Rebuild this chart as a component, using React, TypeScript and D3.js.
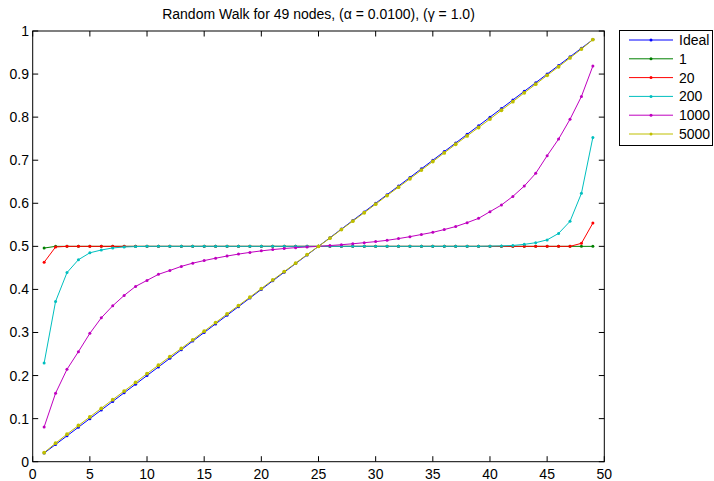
import React, { useEffect, useRef } from "react";
import * as d3 from "d3";

const nodes = [1,2,3,4,5,6,7,8,9,10,11,12,13,14,15,16,17,18,19,20,21,22,23,24,25,26,27,28,29,30,31,32,33,34,35,36,37,38,39,40,41,42,43,44,45,46,47,48,49];

const ideal = [0.02,0.04,0.06,0.08,0.10,0.12,0.14,0.16,0.18,0.20,0.22,0.24,0.26,0.28,0.30,0.32,0.34,0.36,0.38,0.40,0.42,0.44,0.46,0.48,0.50,0.52,0.54,0.56,0.58,0.60,0.62,0.64,0.66,0.68,0.70,0.72,0.74,0.76,0.78,0.80,0.82,0.84,0.86,0.88,0.90,0.92,0.94,0.96,0.98];

const s1 = [0.496,0.5,0.5,0.5,0.5,0.5,0.5,0.5,0.5,0.5,0.5,0.5,0.5,0.5,0.5,0.5,0.5,0.5,0.5,0.5,0.5,0.5,0.5,0.5,0.5,0.5,0.5,0.5,0.5,0.5,0.5,0.5,0.5,0.5,0.5,0.5,0.5,0.5,0.5,0.5,0.5,0.5,0.5,0.5,0.5,0.5,0.5,0.5,0.5];

const s20 = [0.463,0.4985,0.5,0.5,0.5,0.5,0.5,0.5,0.5,0.5,0.5,0.5,0.5,0.5,0.5,0.5,0.5,0.5,0.5,0.5,0.5,0.5,0.5,0.5,0.5,0.5,0.5,0.5,0.5,0.5,0.5,0.5,0.5,0.5,0.5,0.5,0.5,0.5,0.5,0.5,0.5,0.5,0.5,0.5,0.5,0.5,0.5,0.507,0.554];

const s200 = [0.229,0.372,0.439,0.469,0.485,0.4915,0.4963,0.4985,0.4995,0.5,0.5,0.5,0.5,0.5,0.5,0.5,0.5,0.5,0.5,0.5,0.5,0.5,0.5,0.5,0.5,0.5,0.5,0.5,0.5,0.5,0.5,0.5,0.5,0.5,0.5,0.5,0.5,0.5,0.5,0.5005,0.501,0.502,0.5046,0.5085,0.515,0.530,0.558,0.623,0.753];

const s1000 = [0.0806,0.159,0.2145,0.2555,0.298,0.334,0.362,0.386,0.407,0.421,0.435,0.444,0.4535,0.461,0.467,0.4725,0.4775,0.482,0.486,0.4895,0.4925,0.495,0.497,0.4985,0.5,0.5018,0.5038,0.506,0.5085,0.511,0.514,0.518,0.5225,0.5275,0.5325,0.539,0.546,0.555,0.565,0.5805,0.596,0.616,0.640,0.6695,0.7105,0.749,0.795,0.848,0.9187];

const s5000 = [0.021,0.043,0.064,0.084,0.104,0.124,0.144,0.164,0.184,0.2045,0.224,0.244,0.263,0.283,0.303,0.323,0.343,0.3625,0.382,0.402,0.422,0.4415,0.461,0.481,0.5,0.519,0.539,0.5585,0.578,0.598,0.618,0.6375,0.657,0.677,0.697,0.717,0.737,0.7565,0.776,0.7955,0.816,0.836,0.8565,0.8765,0.897,0.917,0.9375,0.958,0.98];

const seriesNames = ["Ideal", "1", "20", "200", "1000", "5000"];
const seriesValues = [ideal, s1, s20, s200, s1000, s5000];
const seriesColors = ["#0000FF", "#008000", "#FF0000", "#00BFBF", "#BF00BF", "#BFBF00"];

const xTicks = [0,5,10,15,20,25,30,35,40,45,50];
const yTicks = [0,0.1,0.2,0.3,0.4,0.5,0.6,0.7,0.8,0.9,1];
const yTickLabels = ["0","0.1","0.2","0.3","0.4","0.5","0.6","0.7","0.8","0.9","1"];
const title = "Random Walk for 49 nodes, (\u03B1 = 0.0100), (\u03B3 = 1.0)";

const W = 714, H = 481;
const L = 32.7, R = 604.3, T = 31, B = 461.7;
const FONT = "'Liberation Sans', Arial, Helvetica, sans-serif";

export default function App() {
  const ref = useRef<SVGSVGElement>(null);
  useEffect(() => {
    const svg = d3.select(ref.current);
    svg.selectAll("*").remove();
    const x = d3.scaleLinear().domain([0, 50]).range([L, R]);
    const y = d3.scaleLinear().domain([0, 1]).range([B, T]);

    svg.append("rect").attr("x", 0).attr("y", 0).attr("width", W).attr("height", H).attr("fill", "#fff");

    const line = d3.line<number>().x((_, i) => x(nodes[i])).y((d) => y(d));
    seriesValues.forEach((vals, k) => {
      const g = svg.append("g");
      g.append("path").attr("d", line(vals)).attr("fill", "none")
        .attr("stroke", seriesColors[k]).attr("stroke-width", 1);
      g.selectAll("circle").data(vals).enter().append("circle")
        .attr("cx", (_, i) => x(nodes[i])).attr("cy", (d) => y(d))
        .attr("r", k === 5 ? 1.9 : 1.5).attr("fill", seriesColors[k]);
    });

    svg.append("rect").attr("x", L).attr("y", T).attr("width", R - L).attr("height", B - T)
      .attr("fill", "none").attr("stroke", "#000").attr("stroke-width", 1);

    const tl = 5.5;
    xTicks.forEach((t) => {
      const px = x(t);
      svg.append("line").attr("x1", px).attr("x2", px).attr("y1", B).attr("y2", B - tl).attr("stroke", "#000");
      svg.append("line").attr("x1", px).attr("x2", px).attr("y1", T).attr("y2", T + tl).attr("stroke", "#000");
      svg.append("text").attr("x", px).attr("y", 479).attr("text-anchor", "middle")
        .attr("font-family", FONT).attr("font-size", 14).attr("fill", "#000").text(String(t));
    });
    yTicks.forEach((t, i) => {
      const py = y(t);
      svg.append("line").attr("x1", L).attr("x2", L + tl).attr("y1", py).attr("y2", py).attr("stroke", "#000");
      svg.append("line").attr("x1", R).attr("x2", R - tl).attr("y1", py).attr("y2", py).attr("stroke", "#000");
      svg.append("text").attr("x", 29).attr("y", py + 5).attr("text-anchor", "end")
        .attr("font-family", FONT).attr("font-size", 14).attr("fill", "#000").text(yTickLabels[i]);
    });

    svg.append("text").attr("x", 318.5).attr("y", 18.5).attr("text-anchor", "middle")
      .attr("font-family", FONT).attr("font-size", 14).attr("fill", "#000").text(title);

    const lg = svg.append("g");
    lg.append("rect").attr("x", 619.5).attr("y", 30.5).attr("width", 93).attr("height", 115)
      .attr("fill", "#fff").attr("stroke", "#000").attr("stroke-width", 1);
    const rowY = d3.scaleLinear().domain([0, 5]).range([40, 134]);
    seriesNames.forEach((name, k) => {
      const yy = rowY(k);
      lg.append("line").attr("x1", 629).attr("x2", 673).attr("y1", yy).attr("y2", yy)
        .attr("stroke", seriesColors[k]).attr("stroke-width", 1);
      lg.append("circle").attr("cx", 651).attr("cy", yy).attr("r", 1.5).attr("fill", seriesColors[k]);
      lg.append("text").attr("x", 679).attr("y", yy + 5).attr("font-family", FONT)
        .attr("font-size", 14).attr("fill", "#000").text(name);
    });
  }, []);
  return (
    <svg ref={ref} width={W} height={H} style={{ position: "fixed", left: 0, top: 0, display: "block" }} />
  );
}
